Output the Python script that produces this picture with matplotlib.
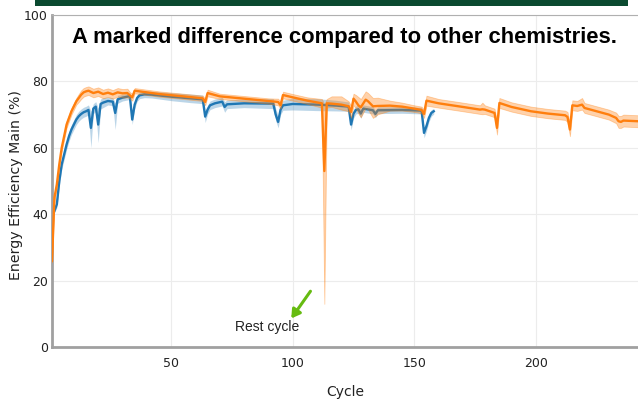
import matplotlib
matplotlib.use("Agg")
import matplotlib.pyplot as plt
from matplotlib.patches import Rectangle

# ---------------- data ----------------
b_cycle = [2, 3, 4, 5, 6, 7, 8, 9, 10, 11, 12, 13, 14, 15, 16,
           17, 18, 19, 20, 21, 22,
           24, 26, 27, 28, 30, 32, 33, 34, 35, 36, 37, 39, 42,
           50, 58, 63, 64, 65, 66, 68, 71, 72, 73,
           80, 92, 93, 94, 95, 96, 100, 110, 118, 123, 124, 125, 126, 127, 128, 129,
           133, 134, 135, 145, 153, 154, 155, 156, 157, 158]
b_mean = [41, 43, 50, 55, 58, 61, 63.5, 65.5, 67, 68.5, 69.5, 70.2, 70.7, 71, 71.4,
          66, 71.8, 72.4, 67, 73.2, 73.6,
          74.1, 73.9, 70.5, 74.6, 75.1, 75.4, 75.6, 68.5, 73, 75, 75.8, 76.1, 76,
          75.4, 74.9, 74.6, 69.4, 71.5, 72.8, 73.4, 73.9, 72.3, 73.1,
          73.4, 73.3, 70, 67.8, 71.5, 72.8, 73.2, 73.0, 72.7, 72.4, 67, 70.3, 71.4, 71.6, 70.3, 71.8,
          71.3, 70.2, 71.3, 71.4, 71.2, 64.5, 66.5, 69, 70.5, 71]
b_dn = [0.5, 1, 1.5, 1.5, 1.5, 1.5, 1.5, 1.5, 1.5, 1.5, 1.5, 1.5, 1.5, 1.5, 1.5,
        6, 1.5, 1.5, 5.5, 1.5, 1.5,
        1.2, 1.2, 5, 1.2, 1, 1, 1, 1.5, 1.2, 1, 1, 1, 1,
        1.2, 1.3, 1.3, 1.8, 1.3, 1.3, 1.3, 1.3, 1.6, 1.3,
        1.3, 1.5, 1.8, 1.8, 1.5, 1.5, 1.8, 1.8, 1.6, 1.4, 1.6, 1.4, 1.2, 1.2, 1.4, 1.1,
        1.1, 1.1, 1, 1, 1, 1.5, 1.5, 1.2, 1, 0.8]
b_up = [0.5, 1, 1.5, 1.5, 1.5, 1.5, 1.5, 1.5, 1.5, 1.5, 1.5, 1.5, 1.5, 1.5, 1.5,
        5, 1.5, 1.5, 5, 1.5, 1.5,
        1.2, 1.2, 3, 1.2, 1, 1, 1, 1.5, 1.2, 1, 1, 1, 1,
        1.2, 1.3, 1.3, 1.8, 1.3, 1.3, 1.3, 1.3, 1.6, 1.3,
        1.3, 1.5, 1.8, 1.8, 1.5, 1.5, 1.8, 1.8, 1.6, 1.4, 1.6, 1.4, 1.2, 1.2, 1.4, 1.1,
        1.1, 1.1, 1, 1, 1, 1.5, 1.5, 1.2, 1, 0.8]

o_cycle = [1, 2, 3, 4, 5, 6, 7, 8, 9, 10, 11, 12, 13, 14, 15, 16,
           18, 20, 22, 24, 26, 28, 30, 32, 33, 34, 35, 39, 45, 55, 63, 64, 65,
           70, 80, 90, 94, 95, 96, 100, 106, 112, 113, 114, 116, 120, 123, 124, 125, 126, 127, 128, 130,
           131, 133, 135, 140, 145, 150, 153, 154, 155, 160, 170, 177, 178, 179, 183, 184, 185, 190, 198, 205,
           212, 213, 214, 215, 217, 219, 220, 225, 230, 233, 234, 235, 236, 242]
o_mean = [26, 45, 49, 55, 60, 63.5, 67, 69, 71, 72.5, 74, 75, 76, 76.7, 77, 77.2,
          76.5, 76.9, 76.2, 76.6, 76.1, 76.7, 76.4, 76.5, 75.8, 75.2, 77.2, 76.8, 76.2, 75.5, 74.9, 73.8, 76.5,
          75.5, 74.8, 74.1, 73.8, 72.8, 75.9, 75.2, 74.2, 73.4, 53, 73.4, 73.3, 73, 72.5, 70.8, 74.8, 73.9, 72.8, 72.2, 74.5,
          74, 72.5, 72.6, 72.7, 72.4, 71.8, 71.4, 70.2, 74.2, 73.4, 72.3, 71.5, 71.6, 71.5, 70.5, 66, 73.5, 72.3, 71, 70.3,
          69.8, 69.3, 65.5, 72.8, 72.6, 73, 72, 71, 70, 69, 68, 67.8, 68.2, 68]
o_dn = [0.5, 0.8, 1, 1, 1, 1, 1, 1, 1, 1, 1, 1.2, 1.3, 1.3, 1.3, 1.3,
        1.3, 1.3, 1.3, 1.3, 1.3, 1.3, 1.3, 1.3, 1, 1, 0.8, 0.8, 0.8, 0.8, 0.8, 1, 1,
        0.8, 0.8, 0.8, 1, 1, 1, 1, 1, 1.3, 40, 1.3, 1, 1.5, 1.5, 1.8, 2, 2, 2.5, 3, 2.5,
        2.5, 3.5, 2.5, 1.5, 1.2, 1, 1, 1.2, 1.5, 1.3, 1.3, 1.3, 1.5, 1.3, 1.3, 2, 1.5, 1.4, 1.4, 1.4,
        1.4, 1.5, 2, 1.5, 1.5, 1.5, 1.5, 1.5, 1.5, 1.6, 2, 1.8, 1.8, 1.8]
o_up = [0.5, 0.8, 1, 1, 1, 1, 1, 1, 1, 1, 1, 1.2, 1.3, 1.3, 1.3, 1.3,
        1.3, 1.3, 1.3, 1.3, 1.3, 1.3, 1.3, 1.3, 1, 1, 0.8, 0.8, 0.8, 0.8, 0.8, 1, 1,
        0.8, 0.8, 0.8, 1, 1, 1, 1, 1, 1.3, 20, 1.3, 2.2, 2.5, 1.5, 1.8, 1.5, 2, 2.5, 2.5, 2.5,
        2.5, 2.5, 2.5, 1.5, 1.2, 1, 1, 1.2, 1.5, 1.3, 1.3, 1.3, 2, 1.3, 1.3, 1.5, 1.5, 1.4, 1.4, 1.4,
        1.4, 1.5, 1.5, 1.5, 1.5, 2, 1.5, 1.5, 1.5, 1.6, 1.6, 1.8, 1.8, 1.8]

x_ticks = [50, 100, 150, 200]
y_ticks = [0, 20, 40, 60, 80, 100]

title_text = "A marked difference compared to other chemistries."
annot_text = "Rest cycle"
x_label = "Cycle"
y_label = "Energy Efficiency Main (%)"

# ---------------- figure ----------------
BLUE = "#1f77b4"
ORANGE = "#ff7f0e"
SPINE = "#a0a0a0"

fig = plt.figure(figsize=(6.38, 4.0), dpi=100)
fig.patch.set_facecolor("white")
ax = fig.add_axes([0.0815, 0.1325, 0.9185, 0.83])

# top dark-green banner strip
fig.patches.append(Rectangle((35 / 638, 1 - 6 / 400), 593 / 638, 6 / 400,
                             transform=fig.transFigure, facecolor="#0b4a30",
                             edgecolor="none", zorder=0))

b_lo = [m - d for m, d in zip(b_mean, b_dn)]
b_hi = [m + u for m, u in zip(b_mean, b_up)]
o_lo = [m - d for m, d in zip(o_mean, o_dn)]
o_hi = [m + u for m, u in zip(o_mean, o_up)]

ax.fill_between(b_cycle, b_lo, b_hi, color=BLUE, alpha=0.3, linewidth=0, zorder=2)
ax.plot(b_cycle, b_mean, color=BLUE, linewidth=1.7, zorder=3)
ax.fill_between(o_cycle, o_lo, o_hi, color=ORANGE, alpha=0.35, linewidth=0.6,
                edgecolor=(1.0, 0.5, 0.05, 0.35), zorder=4)
ax.plot(o_cycle, o_mean, color=ORANGE, linewidth=1.7, zorder=5)

ax.set_xlim(1, 242)
ax.set_ylim(0, 100)
ax.set_xticks(x_ticks)
ax.set_yticks(y_ticks)
ax.grid(True, color="#ececec", linewidth=0.8, zorder=0)
ax.set_axisbelow(True)
ax.tick_params(axis="both", length=0, labelsize=9, colors="#222222")
ax.tick_params(axis="x", pad=7)
ax.tick_params(axis="y", pad=3)

ax.spines["right"].set_visible(False)
ax.spines["left"].set_color(SPINE)
ax.spines["left"].set_linewidth(2.0)
ax.spines["bottom"].set_color(SPINE)
ax.spines["bottom"].set_linewidth(2.0)
ax.spines["top"].set_color("#b0b0b0")
ax.spines["top"].set_linewidth(0.8)

ax.set_xlabel(x_label, fontsize=10, color="#222222", labelpad=11)
ax.set_ylabel(y_label, fontsize=10.2, color="#222222")
ax.yaxis.set_label_coords(-0.05, 0.488)

ax.text(0.499, 0.931, title_text, transform=ax.transAxes, ha="center", va="center",
        fontsize=15.8, fontweight="bold", family="Liberation Sans", color="black")

ax.annotate("", xy=(99.4, 8.6), xytext=(107.3, 16.8),
            arrowprops=dict(arrowstyle="-|>,head_length=0.5,head_width=0.3",
                            color="#66bb11", linewidth=2.2, shrinkA=0, shrinkB=0))
ax.text(89.5, 6.0, annot_text, ha="center", va="center", fontsize=10,
        family="Liberation Sans", color="#222222")

fig.savefig("out.png", dpi=100, facecolor="white")
